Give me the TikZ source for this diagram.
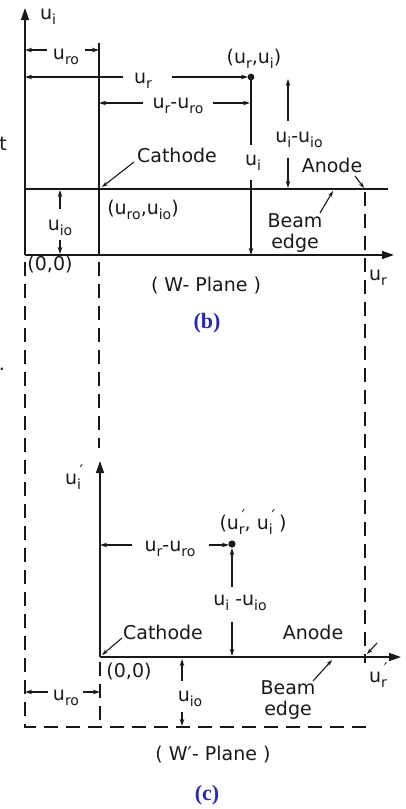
\documentclass[tikz,border=0pt]{standalone}
\usepackage{fontspec}
\setmainfont{DejaVu Sans}
\newfontfamily\capfont{Liberation Serif}
\usetikzlibrary{arrows.meta}
\definecolor{capblue}{RGB}{40,40,190}
\definecolor{ink}{RGB}{25,25,25}
\newcommand{\sbs}[1]{\raisebox{-0.5ex}{\fontsize{14}{14}\selectfont #1}}
\newcommand{\prm}{\rlap{\raisebox{0.8ex}{\fontsize{16}{16}\selectfont\,′}}}
\begin{document}
\begin{tikzpicture}[x=1pt,y=-1pt,
  lbl/.style={font=\fontsize{19}{17}\selectfont, inner sep=0.5pt, text=ink},
  capt/.style={font=\capfont\bfseries\fontsize{22}{22}\selectfont, text=capblue},
  solidln/.style={line width=1.4pt, draw=ink},
  dashln/.style={line width=1.4pt, draw=ink, dash pattern=on 14pt off 8pt},
  axisarr/.style={line width=1.4pt, draw=ink, fill=ink, -{Triangle[length=12pt,width=8pt]}},
  dimarr/.style={line width=1.1pt, draw=ink, -{Stealth[length=7pt,width=4.5pt]}},
  leadarr/.style={line width=1.1pt, draw=ink, -{Stealth[length=6pt,width=4pt]}},
]
\useasboundingbox (0,0) rectangle (405,809);

% ---------------- (b) W-plane ----------------
\coordinate (O1) at (25,255);
\coordinate (Y1) at (25,8);
\coordinate (X1) at (394,255);
\coordinate (CT) at (99,43);
\coordinate (C1) at (99,189);
\coordinate (CB) at (99,255);
\coordinate (BL) at (25,189);
\coordinate (BR) at (388,189);
\coordinate (P1) at (251,77);
\coordinate (P1g) at (251,145);
\coordinate (P1s) at (251,180);
\coordinate (P1b) at (251,255);

\draw[axisarr] (O1) -- (Y1);
\draw[axisarr] (O1) -- (X1);
\draw[solidln] (CT) -- (CB);
\draw[solidln] (BL) -- (BR);
\fill[ink] (P1) circle (3.4);
\draw[solidln] (P1) -- (P1g);
\draw[dimarr] (P1s) -- (P1b);

\node[lbl] (uiax) at (48,17) {u\sbs{i}};
\node[lbl] (pt1) at (254,59) {(u\sbs{r},u\sbs{i})};
\node[lbl] (ui1) at (253,163) {u\sbs{i}};

% u_ro dimension
\node[lbl] (dro1) at (66,57) {u\sbs{ro}};
\coordinate (dro1L) at (25,50); \coordinate (dro1R) at (99,50);
\draw[dimarr] (47,50) -- (dro1L);
\draw[dimarr] (85,50) -- (dro1R);

% u_r dimension
\node[lbl] (dr1) at (143,81) {u\sbs{r}};
\coordinate (dr1L) at (25,77); \coordinate (dr1R) at (248,77);
\draw[dimarr] (123,77) -- (dr1L);
\draw[dimarr] (172,77) -- (dr1R);

% u_r - u_ro dimension
\node[lbl] (drr1) at (178,106) {u\sbs{r}-u\sbs{ro}};
\coordinate (drr1L) at (99,103); \coordinate (drr1R) at (250,103);
\draw[dimarr] (143,103) -- (drr1L);
\draw[dimarr] (213,103) -- (drr1R);

% u_i - u_io
\node[lbl] (dii1) at (299,140) {u\sbs{i}-u\sbs{io}};
\coordinate (dii1a) at (288,121); \coordinate (dii1t) at (288,79);
\coordinate (dii1b) at (288,158); \coordinate (dii1d) at (288,188);
\draw[dimarr] (dii1a) -- (dii1t);
\draw[dimarr] (dii1b) -- (dii1d);

% u_io
\node[lbl] (dio1) at (60,228) {u\sbs{io}};
\coordinate (dio1a) at (60,209); \coordinate (dio1t) at (60,190);
\coordinate (dio1b) at (60,240); \coordinate (dio1d) at (60,254);
\draw[dimarr] (dio1a) -- (dio1t);
\draw[dimarr] (dio1b) -- (dio1d);

\node[lbl] (cat1) at (177,155) {Cathode};
\coordinate (cat1s) at (134,162); \coordinate (cat1e) at (102,187);
\draw[leadarr] (cat1s) -- (cat1e);
\node[lbl] (an1) at (332,165) {Anode};
\coordinate (an1s) at (355,176); \coordinate (an1e) at (364,188);
\draw[leadarr] (an1s) -- (an1e);
\node[lbl, align=center] (be1) at (295,233) {Beam\\[4pt]edge};
\coordinate (be1s) at (320,213); \coordinate (be1e) at (333,191);
\draw[leadarr] (be1s) -- (be1e);

\node[lbl] (c1lab) at (143,210) {(u\sbs{ro},u\sbs{io})};
\node[lbl] (o1lab) at (50,265) {(0,0)};
\node[lbl] (urax) at (378,278) {u\sbs{r}};
\node[lbl] (wpl) at (206,286) {( W- Plane )};
\node[capt] (capb) at (207,323) {(b)};

% stray marks at left edge
\node[lbl] (tfrag) at (3,144) {t};
\node[lbl, anchor=base] (dotfrag) at (2,370) {.};

% ---------------- dashed projections ----------------
\coordinate (DL1) at (25,262); \coordinate (DL2) at (25,727);
\coordinate (DM1) at (99,262); \coordinate (DM2) at (99,448);
\coordinate (DR1) at (365,192); \coordinate (DR2) at (365,663);
\coordinate (DB2) at (370,727);
\draw[dashln] (DM1) -- (DM2);
\draw[dashln] (DR1) -- (DR2);
\draw[dashln] (DL1) -- (DL2) -- (DB2);

% ---------------- (c) W'-plane ----------------
\coordinate (O2) at (100,657);
\coordinate (Y2) at (100,461);
\coordinate (X2) at (401,657);
\coordinate (O2d) at (100,662);
\coordinate (O2b) at (100,727);
\coordinate (P2) at (232,544);
\draw[axisarr] (O2) -- (Y2);
\draw[axisarr] (O2) -- (X2);
\draw[dashln] (O2d) -- (O2b);
\fill[ink] (P2) circle (3.6);

\node[lbl] (uiax2) at (73,477) {u\prm\sbs{i}};
\node[lbl] (pt2) at (253,522) {(u\prm\sbs{r}, u\prm\sbs{i}\,\,)};

\node[lbl] (drr2) at (170,549) {u\sbs{r}-u\sbs{ro}};
\coordinate (drr2L) at (100,545); \coordinate (drr2R) at (229,545);
\draw[dimarr] (132,545) -- (drr2L);
\draw[dimarr] (209,545) -- (drr2R);

\node[lbl] (dii2) at (240,603) {u\sbs{i} -u\sbs{io}};
\coordinate (dii2a) at (232,587); \coordinate (dii2t) at (232,548);
\coordinate (dii2b) at (232,622); \coordinate (dii2d) at (232,656);
\draw[dimarr] (dii2a) -- (dii2t);
\draw[dimarr] (dii2b) -- (dii2d);

\node[lbl] (cat2) at (163,632) {Cathode};
\coordinate (cat2s) at (122,638); \coordinate (cat2e) at (102,655);
\draw[leadarr] (cat2s) -- (cat2e);
\node[lbl] (an2) at (313,632) {Anode};
\coordinate (an2s) at (377,643); \coordinate (an2e) at (367,654);
\draw[leadarr] (an2s) -- (an2e);
\node[lbl] (urax2) at (378,675) {u\prm\sbs{r}};
\node[lbl] (o2lab) at (129,672) {(0,0)};

\node[lbl] (dro2) at (66,698) {u\sbs{ro}};
\coordinate (dro2L) at (25,692); \coordinate (dro2R) at (100,692);
\draw[dimarr] (48,692) -- (dro2L);
\draw[dimarr] (83,692) -- (dro2R);

\node[lbl] (dio2) at (190,699) {u\sbs{io}};
\coordinate (dio2a) at (182,681); \coordinate (dio2t) at (182,659);
\coordinate (dio2b) at (182,712); \coordinate (dio2d) at (182,726);
\draw[dimarr] (dio2a) -- (dio2t);
\draw[dimarr] (dio2b) -- (dio2d);

\node[lbl, align=center] (be2) at (288,700) {Beam\\[4pt]edge};
\coordinate (be2s) at (313,681); \coordinate (be2e) at (332,660);
\draw[leadarr] (be2s) -- (be2e);

\node[lbl] (wpl2) at (213,755) {( W′- Plane )};
\node[capt] (capc) at (207,795) {(c)};
\end{tikzpicture}
\end{document}
